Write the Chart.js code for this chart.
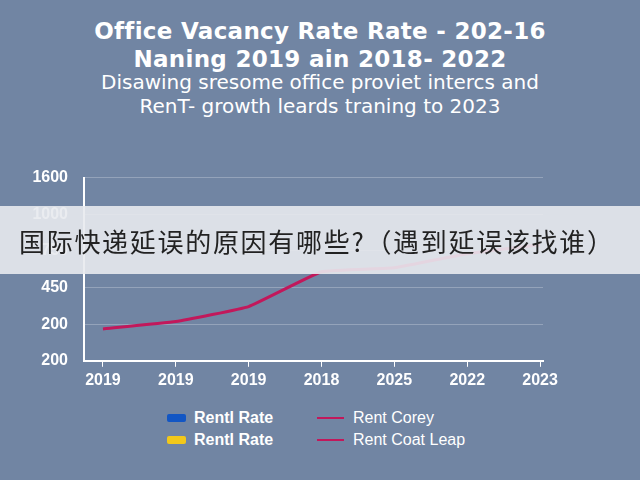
<!DOCTYPE html>
<html>
<head>
<meta charset="utf-8">
<script src="https://cdn.jsdelivr.net/npm/chart.js@4"></script>
<style>
  body { margin: 0; width: 640px; height: 480px; background: #7185a3; font-family: "Liberation Sans", Arial, sans-serif; overflow: hidden; position: relative; }
  .title { position: absolute; top: 17px; width: 640px; text-align: center; color: #fff; font-weight: bold; font-size: 23px; line-height: 28px; font-family: "DejaVu Sans", sans-serif; letter-spacing: 0.3px; }
  .sub { position: absolute; top: 70px; width: 640px; text-align: center; color: #fff; font-size: 20px; line-height: 24px; font-family: "DejaVu Sans", sans-serif; }
  #wrap { position: absolute; left: 0; top: 152px; width: 640px; height: 242px; }
  .banner { position: absolute; left: 0; top: 206px; width: 640px; height: 68px; background: rgba(232,234,238,0.9); }
  .banner span { position: absolute; left: 19px; top: 16px; font-family: "Noto Sans CJK SC", sans-serif; font-size: 26px; color: #222; letter-spacing: 1.7px; }
  .legend { position: absolute; left: 167px; top: 409px; display: grid; grid-template-columns: 150px 180px; row-gap: 4px; color: #fff; font-size: 16px; }
  .legend div { display: flex; align-items: center; height: 18px; }
  .legend .bold { font-weight: bold; }
  .sw { display: inline-block; width: 19px; height: 8px; margin-right: 8px; border-radius: 2px; }
  .ln { display: inline-block; width: 27px; height: 2px; margin-right: 9px; }
</style>
</head>
<body>
<div class="title">Office Vacancy Rate Rate - 202-16<br>Naning 2019 ain 2018- 2022</div>
<div class="sub">Disawing sresome office proviet intercs and<br>RenT- growth leards traning to 2023</div>
<div id="wrap"><canvas id="chart"></canvas></div>
<div class="banner"><span>国际快递延误的原因有哪些?（遇到延误该找谁）</span></div>
<div class="legend" id="legend"></div>
<script>
// values
const xLabels = ['2019','2019','2019','2018','2025','2022','2023'];
const yLabels = ['200','200','450','750','1000','1600'];
const rentLine = [0.87, 1.07, 1.48, 2.43, 2.54, 2.92, 3.17];
const legendBars = [['Rentl Rate', '#1256c4'], ['Rentl Rate', '#f2c81a']];
const legendLines = [['Rent Corey', '#c2185b'], ['Rent Coat Leap', '#c2185b']];

const legend = document.getElementById('legend');
for (let i = 0; i < 2; i++) {
    legend.innerHTML += '<div class="bold"><span class="sw" style="background:' + legendBars[i][1] + '"></span>' + legendBars[i][0] + '</div>';
    legend.innerHTML += '<div><span class="ln" style="background:' + legendLines[i][1] + '"></span>' + legendLines[i][0] + '</div>';
}

const ctx = document.getElementById('chart').getContext('2d');
new Chart(ctx, {
    type: 'line',
    data: {
        datasets: [{
            label: 'Rent Corey',
            data: rentLine.map((v, i) => ({ x: i, y: v })),
            borderColor: '#c2185b',
            borderWidth: 3,
            pointRadius: 0,
            tension: 0.1
        }]
    },
    options: {
        responsive: true,
        maintainAspectRatio: false,
        animation: false,
        layout: { padding: { top: 16, right: 97, left: 0, bottom: 0 } },
        plugins: { legend: { display: false }, tooltip: { enabled: false } },
        scales: {
            x: {
                type: 'linear', min: -0.26, max: 6.04,
                afterBuildTicks: s => { s.ticks = xLabels.map((_, i) => ({ value: i })); },
                ticks: { callback: v => xLabels[v], color: '#fff', font: { size: 16, weight: 'bold' }, padding: 4, maxRotation: 0 },
                grid: { drawOnChartArea: false, color: '#fff', tickLength: 6 },
                border: { color: '#fff', width: 2 }
            },
            y: {
                min: 0, max: 5,
                afterFit: s => { s.width = 84; },
                ticks: { stepSize: 1, callback: v => yLabels[v], color: '#fff', font: { size: 16, weight: 'bold' }, padding: 16 },
                grid: { color: 'rgba(255,255,255,0.25)', drawTicks: false },
                border: { color: '#fff', width: 2 }
            }
        }
    }
});
</script>
</body>
</html>
